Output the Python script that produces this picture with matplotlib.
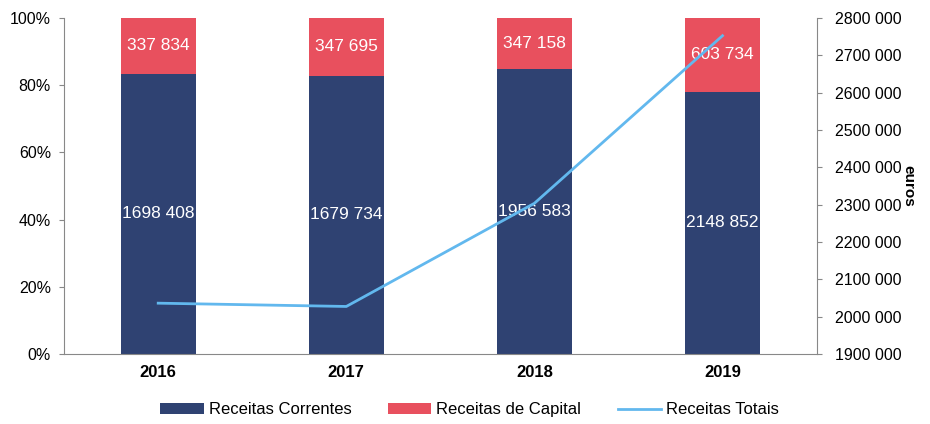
import matplotlib.pyplot as plt
from matplotlib.ticker import FuncFormatter

plt.rcParams['font.family'] = ['Liberation Sans', 'DejaVu Sans']

years = ["2016", "2017", "2018", "2019"]
correntes = [1698408, 1679734, 1956583, 2148852]
capital = [337834, 347695, 347158, 603734]
totais = [c + k for c, k in zip(correntes, capital)]

navy = "#2F4272"
red = "#E8505E"
blue = "#62B8EE"


def fmt(v):
    s = f"{int(v):d}"
    return s[:-3] + " " + s[-3:]


pct_cor = [c / t * 100 for c, t in zip(correntes, totais)]
pct_cap = [k / t * 100 for k, t in zip(capital, totais)]

fig = plt.figure(figsize=(9.3, 4.24), dpi=100)
ax = fig.add_axes([0.069, 0.165, 0.809, 0.7925])
x = range(len(years))

b1 = ax.bar(x, pct_cor, width=0.4, color=navy, label="Receitas Correntes")
b2 = ax.bar(x, pct_cap, width=0.4, bottom=pct_cor, color=red, label="Receitas de Capital")
t1 = ax.bar_label(b1, labels=[fmt(v) for v in correntes], label_type="center",
                  color="white", fontsize=12.5)
t2 = ax.bar_label(b2, labels=[fmt(v) for v in capital], label_type="center",
                  color="white", fontsize=12.5)
# labels wider than the bars get cut at the bar edge, as in the original
for texts, bars in [(t1, b1), (t2, b2)]:
    for t, b in zip(texts, bars):
        t.set_clip_path(b)

ax.set_ylim(0, 100)
ax.set_xlim(-0.5, 3.5)
ax.set_yticks([0, 20, 40, 60, 80, 100])
ax.yaxis.set_major_formatter(FuncFormatter(lambda v, p: f"{int(v)}%"))
ax.set_xticks(list(x))
ax.set_xticklabels(years, fontweight="bold")
for s in ["top", "right"]:
    ax.spines[s].set_visible(False)
for s in ["left", "bottom"]:
    ax.spines[s].set_color("#888888")
ax.tick_params(axis="y", labelsize=11.5, color="#888888", pad=6)
ax.tick_params(axis="x", labelsize=12, length=0, pad=8)

ax2 = ax.twinx()
line, = ax2.plot(list(x), totais, color=blue, lw=2, label="Receitas Totais")
ax2.set_ylim(1900000, 2800000)
ax2.set_yticks(range(1900000, 2800001, 100000))
ax2.yaxis.set_major_formatter(FuncFormatter(lambda v, p: fmt(v)))
for s in ["top", "left", "bottom"]:
    ax2.spines[s].set_visible(False)
ax2.spines["right"].set_color("#888888")
ax2.tick_params(axis="y", labelsize=11.5, color="#888888", pad=10)
ax2.set_ylabel("euros", rotation=270, fontweight="bold", fontsize=11, labelpad=10)

fig.legend(handles=[b1, b2, line], loc="lower center", ncol=3, frameon=False,
           fontsize=12, bbox_to_anchor=(0.505, -0.02), handlelength=2.6,
           handleheight=0.6, handletextpad=0.3, columnspacing=2.2)

fig.savefig("out.png", dpi=100)
